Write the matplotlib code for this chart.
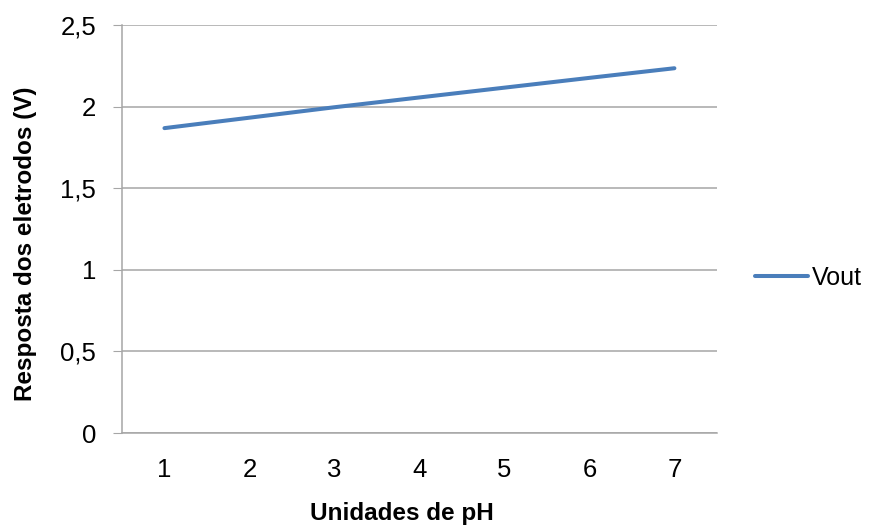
import matplotlib
matplotlib.use("Agg")
import matplotlib.pyplot as plt

plt.rcParams['font.family'] = ['Liberation Sans', 'DejaVu Sans']

ph = [1, 2, 3, 4, 5, 6, 7]
vout = [1.868, 1.932, 1.996, 2.056, 2.116, 2.176, 2.235]
yticks = [0, 0.5, 1, 1.5, 2, 2.5]
ytick_labels = ["0", "0,5", "1", "1,5", "2", "2,5"]

fig = plt.figure(figsize=(8.73, 5.26), dpi=100)
ax = fig.add_axes([0.1397, 0.1768, 0.6815, 0.7757])

ax.plot(ph, vout, color='#4a7ebb', lw=2.9, label='Vout', solid_capstyle='round')

ax.set_xlim(0.5, 7.5)
ax.set_ylim(0, 2.5)
ax.set_xticks(ph)
ax.set_yticks(yticks)
ax.set_yticklabels(ytick_labels)
ax.grid(axis='y', color='#a6a6a6', lw=1.1)
ax.set_axisbelow(True)

for s in ['top', 'right']:
    ax.spines[s].set_visible(False)
for s in ['left', 'bottom']:
    ax.spines[s].set_color('#a6a6a6')
    ax.spines[s].set_linewidth(1.1)

ax.tick_params(axis='y', length=6.5, color='#a6a6a6', labelsize=18.5, pad=12)
ax.tick_params(axis='x', length=0, labelsize=18.5, pad=18)

ax.set_xlabel('Unidades de pH', fontsize=17.5, fontweight='bold', va='top')
ax.xaxis.set_label_coords(0.471, -0.170)
ax.set_ylabel('Resposta dos eletrodos (V)', fontsize=17.5, fontweight='bold')
ax.yaxis.set_label_coords(-0.142, 0.463)

fig.legend(loc='center left', bbox_to_anchor=(0.865, 0.4715), frameon=False,
           fontsize=18, handlelength=2.1, handletextpad=0.15, borderpad=0,
           borderaxespad=0)

fig.savefig('out.png', dpi=100)
